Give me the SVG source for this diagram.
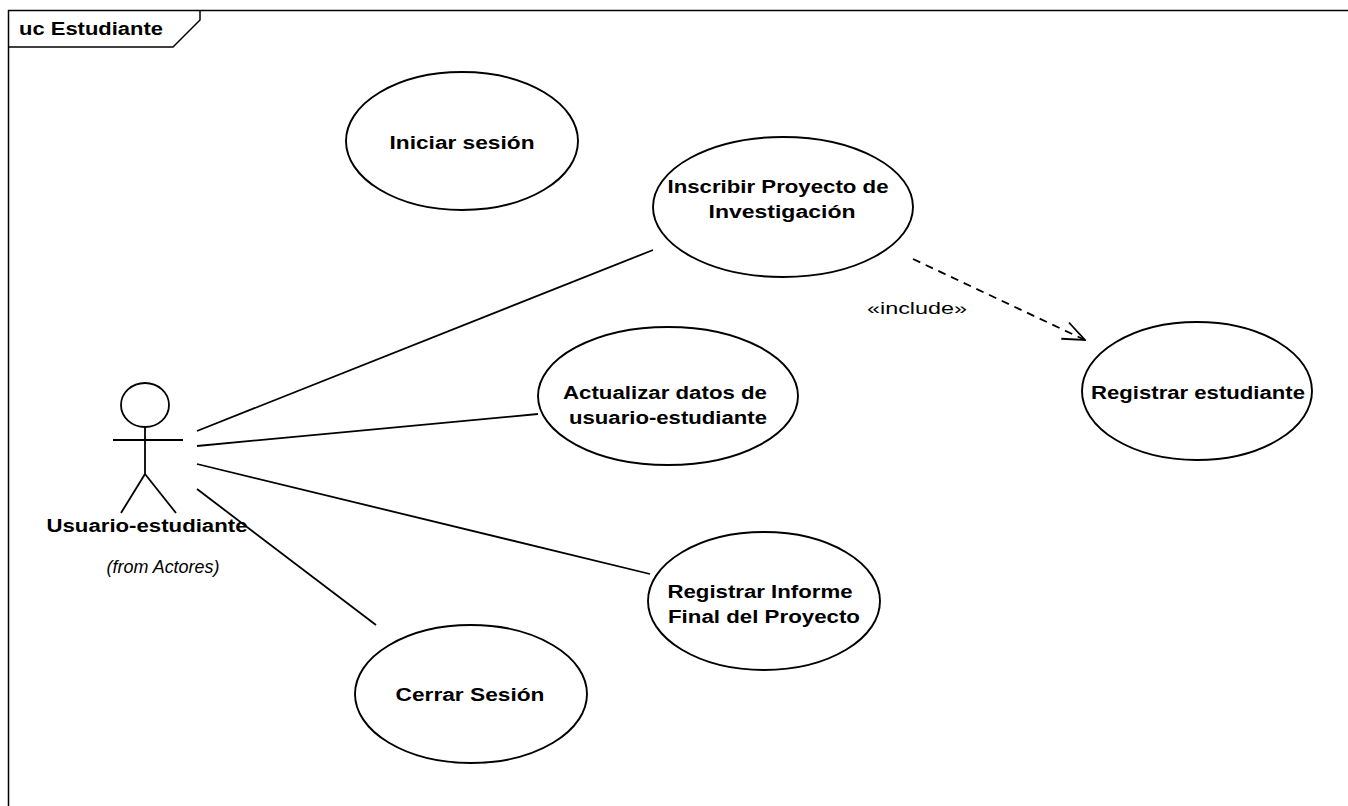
<svg xmlns="http://www.w3.org/2000/svg" width="1348" height="806" viewBox="0 0 1348 806">
  <style>
    .uc { fill: #fff; stroke: #000; stroke-width: 1.9; }
    .lbl { font-family: "Liberation Sans", Arial, sans-serif; font-weight: bold; font-size: 18px; fill: #000; text-anchor: middle; }
    .assoc { stroke: #000; stroke-width: 1.8; fill: none; }
    .dep { stroke: #000; stroke-width: 1.8; fill: none; stroke-dasharray: 8 6; }
    .frame { stroke: #000; stroke-width: 1.5; fill: none; }
  </style>
  <defs>
    <marker id="openArrow" viewBox="0 0 24 24" refX="23" refY="12" markerWidth="24" markerHeight="24" markerUnits="userSpaceOnUse" orient="auto">
      <path d="M1,3 L23,12 L1,21" fill="none" stroke="#000" stroke-width="1.8"/>
    </marker>
  </defs>
  <rect x="0" y="0" width="1348" height="806" fill="#fff"/>

  <!-- diagram frame -->
  <g id="frame">
    <path class="frame" d="M8.5,806 L8.5,10.5 L1348,10.5"/>
    <path class="frame" d="M8.5,47 L173,47 L200,20 L200,10.5"/>
    <text class="lbl" x="91" y="35" textLength="144" lengthAdjust="spacingAndGlyphs">uc Estudiante</text>
  </g>

  <!-- associations and include -->
  <g id="connectors">
    <line class="assoc" x1="197" y1="431" x2="653" y2="250"/>
    <line class="assoc" x1="197" y1="446" x2="538" y2="414"/>
    <line class="assoc" x1="197" y1="464" x2="650" y2="574"/>
    <line class="assoc" x1="197" y1="489" x2="376" y2="625"/>
    <line class="dep" x1="913" y1="259" x2="1085" y2="340" marker-end="url(#openArrow)"/>
    <text x="917" y="314" font-family="Liberation Sans, Arial, sans-serif" font-size="16.5" text-anchor="middle" textLength="100" lengthAdjust="spacingAndGlyphs">«include»</text>
  </g>

  <!-- actor -->
  <g id="actor-usuario-estudiante" stroke="#000" stroke-width="1.8" fill="none">
    <ellipse cx="145" cy="405" rx="24" ry="22" fill="#fff"/>
    <line x1="145" y1="427" x2="145" y2="474"/>
    <line x1="113" y1="440" x2="183" y2="440"/>
    <line x1="145" y1="474" x2="121" y2="513"/>
    <line x1="145" y1="474" x2="176" y2="513"/>
    <text class="lbl" stroke="none" x="147" y="532" textLength="201" lengthAdjust="spacingAndGlyphs">Usuario-estudiante</text>
    <text stroke="none" fill="#000" x="163" y="573" font-family="Liberation Sans, Arial, sans-serif" font-style="italic" font-size="17.5" text-anchor="middle" textLength="113" lengthAdjust="spacingAndGlyphs">(from Actores)</text>
  </g>

  <g id="uc-iniciar-sesion">
    <ellipse class="uc" cx="462" cy="141" rx="116" ry="69"/>
    <text class="lbl" x="462" y="149" textLength="145" lengthAdjust="spacingAndGlyphs">Iniciar sesión</text>
  </g>

  <g id="uc-inscribir-proyecto">
    <ellipse class="uc" cx="783" cy="207" rx="130" ry="70"/>
    <text class="lbl" x="778" y="193" textLength="221" lengthAdjust="spacingAndGlyphs">Inscribir Proyecto de</text>
    <text class="lbl" x="782" y="218" textLength="147" lengthAdjust="spacingAndGlyphs">Investigación</text>
  </g>

  <g id="uc-actualizar-datos">
    <ellipse class="uc" cx="668" cy="396" rx="130" ry="69"/>
    <text class="lbl" x="665" y="399" textLength="204" lengthAdjust="spacingAndGlyphs">Actualizar datos de</text>
    <text class="lbl" x="668" y="424" textLength="198" lengthAdjust="spacingAndGlyphs">usuario-estudiante</text>
  </g>

  <g id="uc-registrar-estudiante">
    <ellipse class="uc" cx="1197" cy="391" rx="115" ry="69"/>
    <text class="lbl" x="1198" y="399" textLength="214" lengthAdjust="spacingAndGlyphs">Registrar estudiante</text>
  </g>

  <g id="uc-registrar-informe">
    <ellipse class="uc" cx="764" cy="601" rx="116" ry="69"/>
    <text class="lbl" x="760" y="598" textLength="185" lengthAdjust="spacingAndGlyphs">Registrar Informe</text>
    <text class="lbl" x="764" y="623" textLength="192" lengthAdjust="spacingAndGlyphs">Final del Proyecto</text>
  </g>

  <g id="uc-cerrar-sesion">
    <ellipse class="uc" cx="471" cy="694" rx="116" ry="69"/>
    <text class="lbl" x="470" y="701" textLength="149" lengthAdjust="spacingAndGlyphs">Cerrar Sesión</text>
  </g>
</svg>
